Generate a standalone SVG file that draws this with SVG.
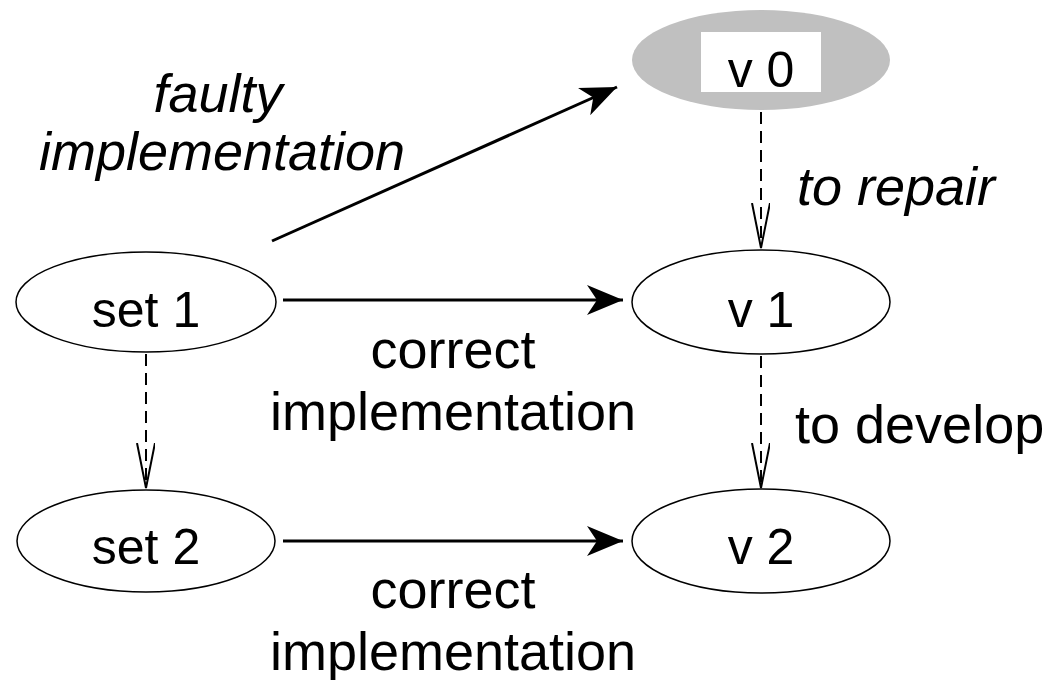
<svg xmlns="http://www.w3.org/2000/svg" width="1048" height="680" viewBox="0 0 1048 680">
<defs>
<marker id="solid" markerUnits="userSpaceOnUse" markerWidth="40" markerHeight="34" refX="36" refY="15" orient="auto">
<path d="M0,0 L36,15 L0,30 L10,15 Z" fill="#000"/>
</marker>
<marker id="open" markerUnits="userSpaceOnUse" markerWidth="50" markerHeight="24" refX="45" refY="9" orient="auto">
<path d="M0,0 L45,9 L0,18" fill="none" stroke="#000" stroke-width="2"/>
</marker>
</defs>
<style>
.node{fill:#fff;stroke:#000;stroke-width:1.5}
.nt{font-family:"Liberation Sans",Arial,sans-serif;font-size:50px;text-anchor:middle;fill:#000}
.lb{font-family:"Liberation Sans",Arial,sans-serif;font-size:54px;fill:#000}
.it{font-style:italic}
.solid{stroke:#000;stroke-width:3;fill:none;marker-end:url(#solid)}
.dash{stroke:#000;stroke-width:2;fill:none;stroke-dasharray:12 7;marker-end:url(#open)}
</style>
<rect width="1048" height="680" fill="#fff"/>
<g id="v0">
<ellipse cx="761" cy="60" rx="129" ry="50" fill="#c0c0c0"/>
<rect x="701" y="32" width="120" height="60" fill="#fff"/>
<text class="nt" x="761" y="87">v 0</text>
</g>
<g id="set1">
<ellipse class="node" cx="146" cy="302" rx="130" ry="50"/>
<text class="nt" x="146" y="327">set 1</text>
</g>
<g id="v1">
<ellipse class="node" cx="761" cy="302" rx="129" ry="52"/>
<text class="nt" x="761" y="327">v 1</text>
</g>
<g id="set2">
<ellipse class="node" cx="146" cy="541" rx="129" ry="51"/>
<text class="nt" x="146" y="564">set 2</text>
</g>
<g id="v2">
<ellipse class="node" cx="761" cy="541" rx="129" ry="52"/>
<text class="nt" x="761" y="564">v 2</text>
</g>
<g id="connectors">
<line class="solid" x1="272" y1="241" x2="617" y2="87"/>
<line class="solid" x1="283" y1="300" x2="623" y2="300"/>
<line class="solid" x1="283" y1="541" x2="623" y2="541"/>
<line class="dash" x1="761" y1="112" x2="761" y2="248"/>
<line class="dash" x1="761" y1="356" x2="761" y2="488"/>
<line class="dash" x1="146" y1="354" x2="146" y2="488"/>
</g>
<g id="labels">
<text class="lb it" x="218" y="112" text-anchor="middle">faulty</text>
<text class="lb it" x="222" y="170" text-anchor="middle">implementation</text>
<text class="lb it" x="797" y="205">to repair</text>
<text class="lb" x="795" y="443">to develop</text>
<text class="lb" x="453" y="368" text-anchor="middle">correct</text>
<text class="lb" x="453" y="430" text-anchor="middle">implementation</text>
<text class="lb" x="453" y="608" text-anchor="middle">correct</text>
<text class="lb" x="453" y="670" text-anchor="middle">implementation</text>
</g>
</svg>
